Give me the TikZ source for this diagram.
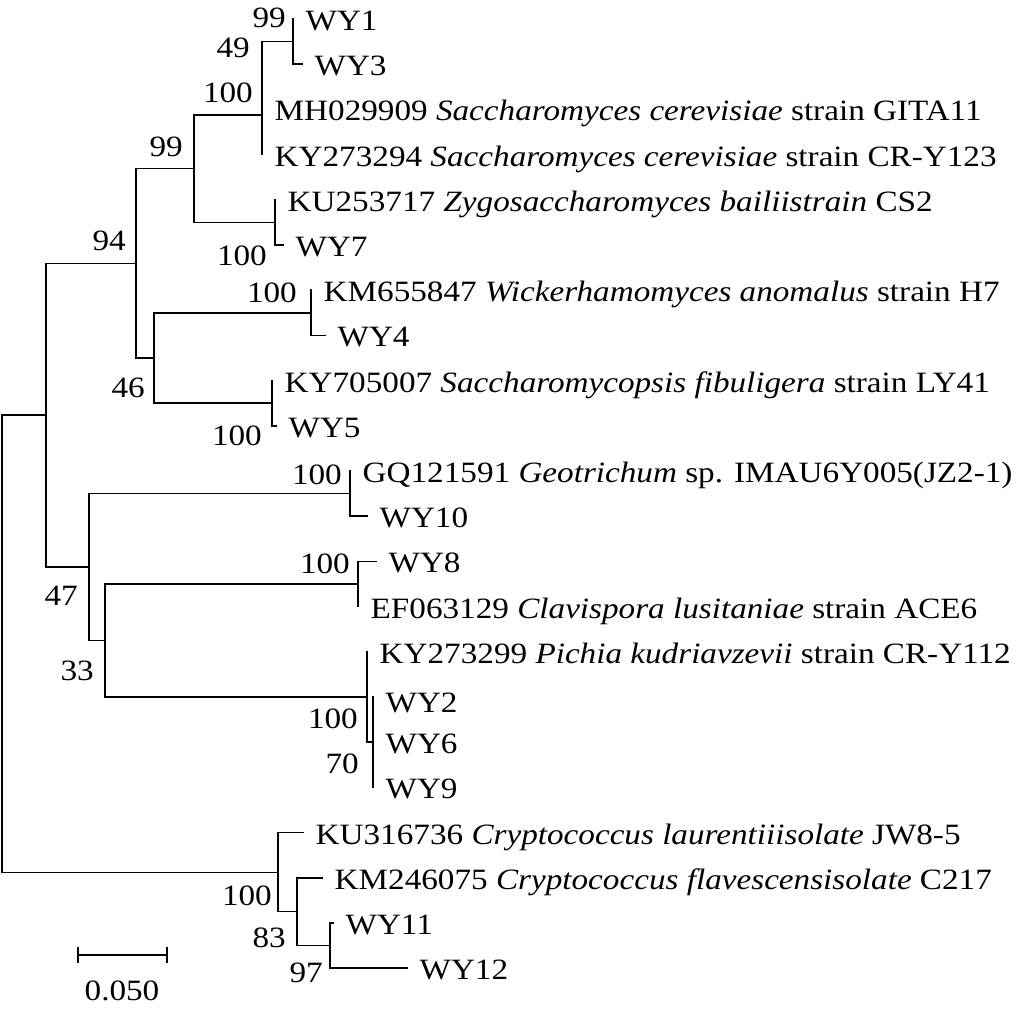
\documentclass[tikz,border=0pt]{standalone}
\usepackage{fontspec}
\setmainfont[FakeStretch=1.125]{Liberation Serif}
\begin{document}
\begin{tikzpicture}[x=1pt,y=-1pt,
  br/.style={line width=1.5pt,line cap=rect,black},
  taxon/.style={anchor=base west,inner sep=0pt,xshift=12.5pt,yshift=-11.5pt,font=\fontsize{29.5}{34}\selectfont},
  boot/.style={anchor=base east,inner sep=0pt,font=\fontsize{29.5}{34}\selectfont}]
\useasboundingbox (0,0) rectangle (1016,1011);
% internal nodes
\coordinate (A) at (293,41.6);
\coordinate (AB) at (262,75.5);
\coordinate (B) at (262,115);
\coordinate (C) at (194,168.7);
\coordinate (D) at (275,222.4);
\coordinate (E) at (136,263.4);
\coordinate (F) at (154,358);
\coordinate (G) at (311,312.8);
\coordinate (H) at (272,403.2);
\coordinate (I) at (46,415.2);
\coordinate (J) at (89,567);
\coordinate (K) at (350,493.6);
\coordinate (L) at (105,640.5);
\coordinate (M) at (358,584);
\coordinate (N) at (367,697);
\coordinate (O) at (373,742.2);
\coordinate (R0) at (2,643.7);
\coordinate (P) at (278,872.3);
\coordinate (Q) at (297,911.7);
\coordinate (R) at (330,945.6);
% tips
\coordinate (tWY1) at (293,19);
\coordinate (tWY3) at (302,64.2);
\coordinate (tMH) at (262,109.4);
\coordinate (tKYa) at (262,154.6);
\coordinate (tKUa) at (275,199.8);
\coordinate (tWY7) at (283,245);
\coordinate (tKMa) at (311,290.2);
\coordinate (tWY4) at (325,335.4);
\coordinate (tKYb) at (272,380.6);
\coordinate (tWY5) at (276,425.8);
\coordinate (tGQ) at (350,471);
\coordinate (tWY10) at (367,516.2);
\coordinate (tWY8) at (376,561.4);
\coordinate (tEF) at (358,606.6);
\coordinate (tKYc) at (367,651.8);
\coordinate (tWY2) at (373,697);
\coordinate (tWY6) at (373,742.2);
\coordinate (tWY9) at (373,787.4);
\coordinate (tKUb) at (303,832.6);
\coordinate (tKMb) at (322,877.8);
\coordinate (tWY11) at (333,923);
\coordinate (tWY12) at (407,968.2);
% branches
\draw[br] (A) |- (tWY1);
\draw[br] (A) |- (tWY3);
\draw[br] (AB) |- (A);
\draw[br] (AB) |- (tMH);
\draw[br] (B) |- (AB);
\draw[br] (B) |- (tKYa);
\draw[br] (C) |- (B);
\draw[br] (C) |- (D);
\draw[br] (D) |- (tKUa);
\draw[br] (D) |- (tWY7);
\draw[br] (E) |- (C);
\draw[br] (E) |- (F);
\draw[br] (F) |- (G);
\draw[br] (F) |- (H);
\draw[br] (G) |- (tKMa);
\draw[br] (G) |- (tWY4);
\draw[br] (H) |- (tKYb);
\draw[br] (H) |- (tWY5);
\draw[br] (I) |- (E);
\draw[br] (I) |- (J);
\draw[br] (J) |- (K);
\draw[br] (J) |- (L);
\draw[br] (K) |- (tGQ);
\draw[br] (K) |- (tWY10);
\draw[br] (L) |- (M);
\draw[br] (L) |- (N);
\draw[br] (M) |- (tWY8);
\draw[br] (M) |- (tEF);
\draw[br] (N) |- (tKYc);
\draw[br] (N) |- (O);
\draw[br] (O) |- (tWY2);
\draw[br] (O) |- (tWY6);
\draw[br] (O) |- (tWY9);
\draw[br] (R0) |- (I);
\draw[br] (R0) |- (P);
\draw[br] (P) |- (tKUb);
\draw[br] (P) |- (Q);
\draw[br] (Q) |- (tKMb);
\draw[br] (Q) |- (R);
\draw[br] (R) |- (tWY11);
\draw[br] (R) |- (tWY12);
% taxon labels
\node[taxon] (lWY1) at (tWY1) {WY1};
\node[taxon] (lWY3) at (tWY3) {WY3};
\node[taxon] (lMH) at (tMH) {MH029909 \textit{Saccharomyces cerevisiae} strain GITA11};
\node[taxon] (lKYa) at (tKYa) {KY273294 \textit{Saccharomyces cerevisiae} strain CR-Y123};
\node[taxon] (lKUa) at (tKUa) {KU253717 \textit{Zygosaccharomyces bailiistrain} CS2};
\node[taxon] (lWY7) at (tWY7) {WY7};
\node[taxon] (lKMa) at (tKMa) {KM655847 \textit{Wickerhamomyces anomalus} strain H7};
\node[taxon] (lWY4) at (tWY4) {WY4};
\node[taxon] (lKYb) at (tKYb) {KY705007 \textit{Saccharomycopsis fibuligera} strain LY41};
\node[taxon] (lWY5) at (tWY5) {WY5};
\node[taxon] (lGQ) at (tGQ) {GQ121591 \textit{Geotrichum} sp. IMAU6Y005(JZ2-1)};
\node[taxon] (lWY10) at (tWY10) {WY10};
\node[taxon] (lWY8) at (tWY8) {WY8};
\node[taxon] (lEF) at (tEF) {EF063129 \textit{Clavispora lusitaniae} strain ACE6};
\node[taxon] (lKYc) at (tKYc) {KY273299 \textit{Pichia kudriavzevii} strain CR-Y112};
\node[taxon,yshift=-4pt] (lWY2) at (tWY2) {WY2};
\node[taxon] (lWY6) at (tWY6) {WY6};
\node[taxon] (lWY9) at (tWY9) {WY9};
\node[taxon] (lKUb) at (tKUb) {KU316736 \textit{Cryptococcus laurentiiisolate} JW8-5};
\node[taxon] (lKMb) at (tKMb) {KM246075 \textit{Cryptococcus flavescensisolate} C217};
\node[taxon] (lWY11) at (tWY11) {WY11};
\node[taxon] (lWY12) at (tWY12) {WY12};
% bootstrap values
\node[boot] (b1) at (286,28) {99};
\node[boot] (b2) at (250,58) {49};
\node[boot] (b3) at (253,103) {100};
\node[boot] (b4) at (183,157) {99};
\node[boot] (b5) at (267,265) {100};
\node[boot] (b6) at (126,250) {94};
\node[boot] (b7) at (297,302) {100};
\node[boot] (b8) at (145,397) {46};
\node[boot] (b9) at (262,445) {100};
\node[boot] (b10) at (342,484) {100};
\node[boot] (b11) at (350,573) {100};
\node[boot] (b12) at (78,605) {47};
\node[boot] (b13) at (94,680) {33};
\node[boot] (b14) at (358,728) {100};
\node[boot] (b15) at (359,773) {70};
\node[boot] (b16) at (272,905) {100};
\node[boot] (b17) at (286,947) {83};
\node[boot] (b18) at (323,982) {97};
% scale bar
\coordinate (sbL) at (78,955);
\coordinate (sbR) at (167,955);
\draw[br,line cap=butt] (sbL) -- (sbR);
\draw[br,line cap=butt] ([yshift=8pt]sbL) -- ([yshift=-8pt]sbL);
\draw[br,line cap=butt] ([yshift=8pt]sbR) -- ([yshift=-8pt]sbR);
\node[anchor=base,inner sep=0pt,font=\fontsize{29.5}{34}\selectfont] (sbT) at (122,1000) {0.050};
\end{tikzpicture}
\end{document}
